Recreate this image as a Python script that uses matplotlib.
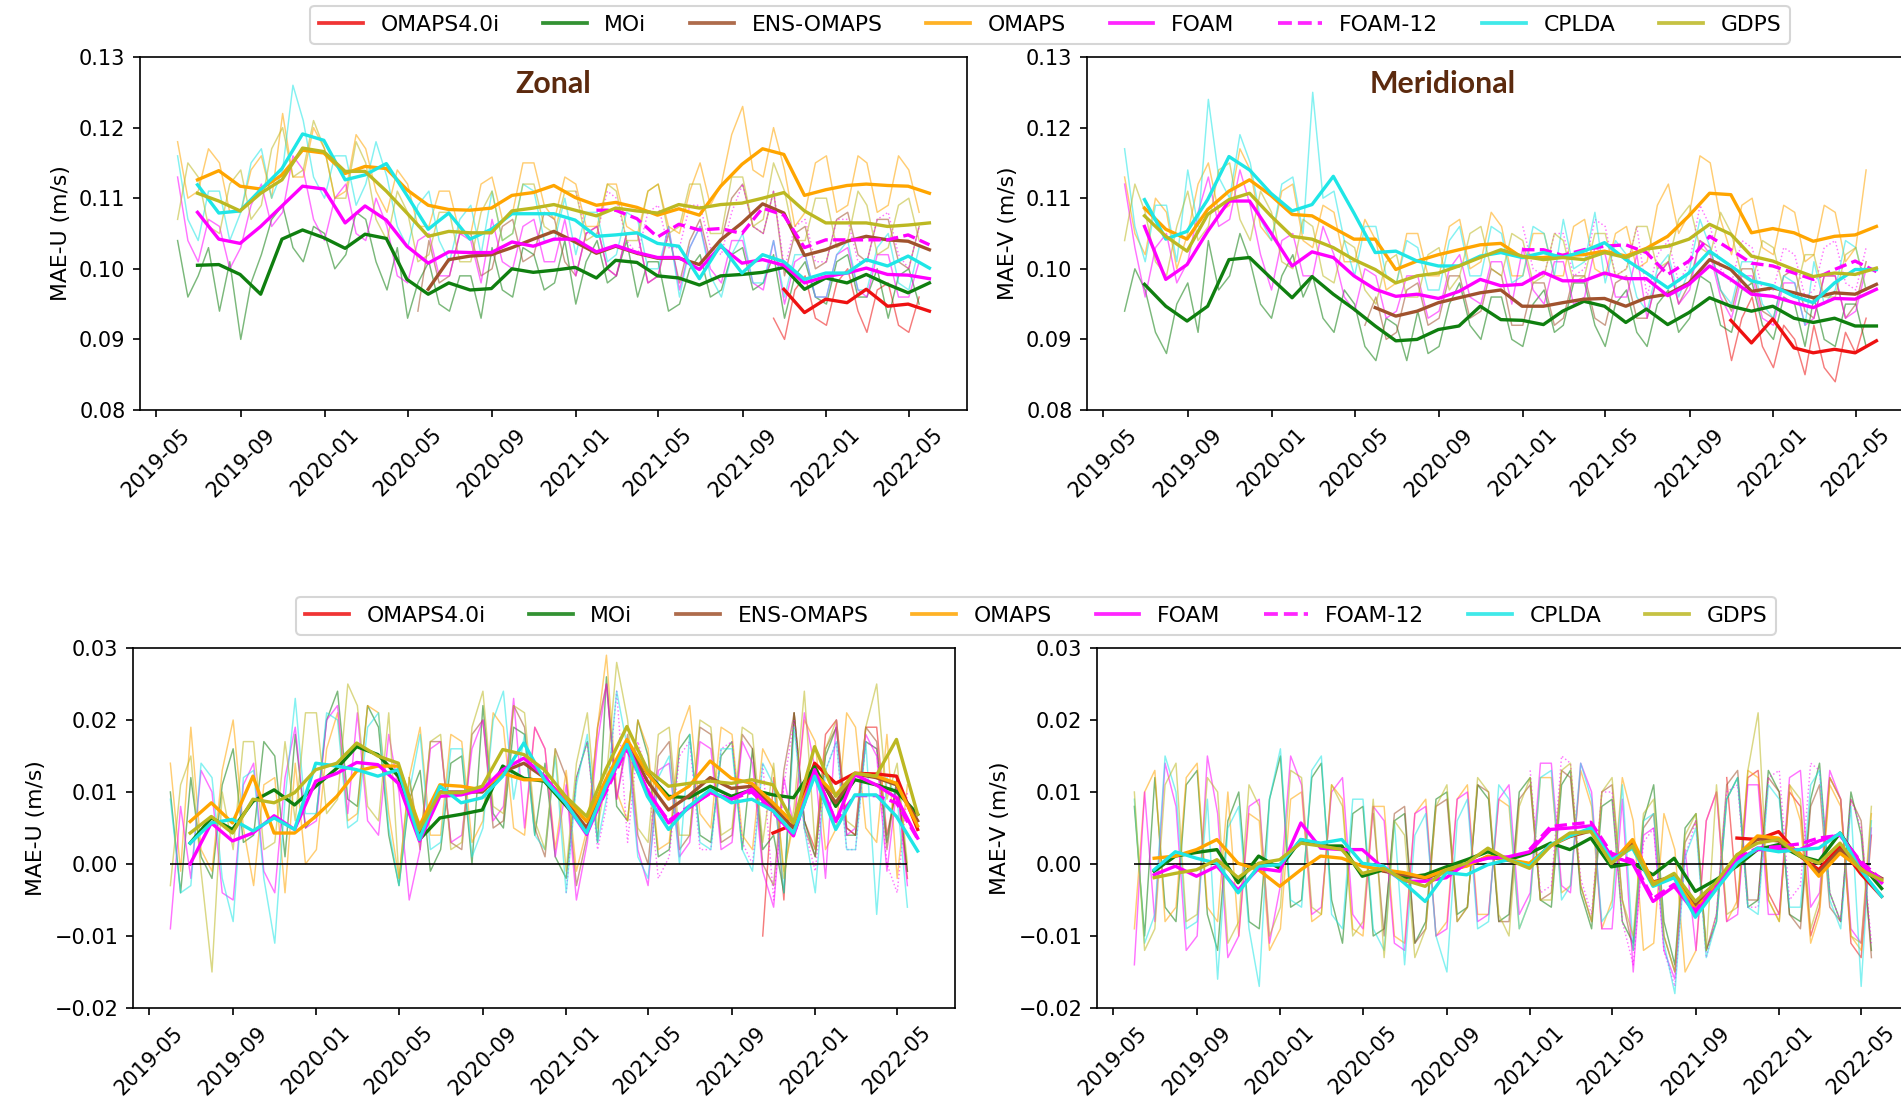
import numpy as np
import pandas as pd
import matplotlib
matplotlib.use("Agg")
import matplotlib.pyplot as plt
import matplotlib.dates as mdates
from matplotlib.lines import Line2D

# ---------------------------------------------------------------------------
# Models, colours
# ---------------------------------------------------------------------------
MODELS = ["OMAPS4.0i", "MOi", "ENS-OMAPS", "OMAPS", "FOAM", "FOAM-12", "CPLDA", "GDPS"]
COLORS = {
    "OMAPS4.0i": "#ee1111",
    "MOi": "#0f7f0f",
    "ENS-OMAPS": "#a0522d",
    "OMAPS": "#ffa500",
    "FOAM": "#ff00ff",
    "FOAM-12": "#ff00ff",
    "CPLDA": "#1fe6e6",
    "GDPS": "#bcb822",
}

# Monthly means are stamped at month end (Jun 2019 - May 2022);
# the thin curves are sampled on the 1st and 16th of each month.
MONTH_ENDS = pd.date_range("2019-06-30", periods=36, freq=pd.offsets.MonthEnd())
_starts = pd.date_range("2019-06-01", periods=36, freq=pd.offsets.MonthBegin())
SAMPLE_DATES = pd.DatetimeIndex(sorted(list(_starts) + list(_starts + pd.Timedelta(days=15))))

# ---------------------------------------------------------------------------
# Zonal MAE (m/s) - monthly means
# ---------------------------------------------------------------------------
U_MOI = [0.1005, 0.1006, 0.0992, 0.0964, 0.1042, 0.1055, 0.1044, 0.1029, 0.1049, 0.1043,
         0.0985, 0.0964, 0.0980, 0.0970, 0.0972, 0.1000, 0.0995, 0.0998, 0.1002, 0.0987,
         0.1012, 0.1009, 0.0990, 0.0987, 0.0977, 0.0990, 0.0992, 0.0995, 0.1002, 0.0971,
         0.0987, 0.0980, 0.0992, 0.0978, 0.0966, 0.0980]
U_FOAM = [0.1080, 0.1042, 0.1036, 0.1060, 0.1089, 0.1117, 0.1113, 0.1065, 0.1089, 0.1069,
          0.1032, 0.1008, 0.1024, 0.1023, 0.1023, 0.1038, 0.1032, 0.1042, 0.1042, 0.1024,
          0.1033, 0.1023, 0.1016, 0.1016, 0.0999, 0.1032, 0.1008, 0.1013, 0.1005, 0.0980,
          0.0989, 0.0994, 0.1001, 0.0992, 0.0991, 0.0986]
U_OMAPS = [0.1126, 0.1139, 0.1117, 0.1113, 0.1133, 0.1168, 0.1164, 0.1135, 0.1145, 0.1142,
           0.1112, 0.1090, 0.1084, 0.1083, 0.1086, 0.1104, 0.1108, 0.1118, 0.1101, 0.1090,
           0.1094, 0.1087, 0.1076, 0.1085, 0.1076, 0.1117, 0.1148, 0.1170, 0.1162, 0.1104,
           0.1112, 0.1118, 0.1120, 0.1118, 0.1117, 0.1107]
U_CPLDA = [0.1119, 0.1079, 0.1082, 0.1112, 0.1142, 0.1191, 0.1182, 0.1126, 0.1133, 0.1149,
           0.1104, 0.1056, 0.1079, 0.1042, 0.1056, 0.1078, 0.1078, 0.1078, 0.1069, 0.1046,
           0.1048, 0.1051, 0.1036, 0.1032, 0.0986, 0.1034, 0.0994, 0.1020, 0.1010, 0.0985,
           0.0994, 0.0994, 0.1013, 0.1004, 0.1018, 0.1001]
U_GDPS = [0.1107, 0.1096, 0.1082, 0.1107, 0.1126, 0.1171, 0.1166, 0.1138, 0.1138, 0.1110,
          0.1079, 0.1046, 0.1053, 0.1051, 0.1051, 0.1082, 0.1086, 0.1091, 0.1083, 0.1075,
          0.1086, 0.1082, 0.1079, 0.1091, 0.1086, 0.1091, 0.1093, 0.1100, 0.1108, 0.1082,
          0.1065, 0.1065, 0.1065, 0.1060, 0.1062, 0.1065]
U_ENS = [0.0971, 0.1013, 0.1018, 0.1020, 0.1030, 0.1042, 0.1053, 0.1038, 0.1022, 0.1032,
         0.1022, 0.1015, 0.1015, 0.1006, 0.1041, 0.1065, 0.1092, 0.1079, 0.1019, 0.1027,
         0.1039, 0.1046, 0.1041, 0.1039, 0.1027]
U_FOAM12 = [0.1083, 0.1083, 0.1071, 0.1045, 0.1063, 0.1055, 0.1057, 0.1050, 0.1086, 0.1076,
            0.1030, 0.1041, 0.1041, 0.1041, 0.1041, 0.1048, 0.1034]
U_OMAPS40 = [0.0971, 0.0938, 0.0957, 0.0952, 0.0971, 0.0947, 0.0950, 0.0940]

# Zonal MAE - twice-monthly samples (units of 1e-3 m/s)
U_MOI_S = [104, 96, 99, 103, 94, 101, 90, 98, 102, 107, 109, 103, 101, 106, 105, 100, 102, 108,
           107, 101, 97, 103, 93, 98, 101, 95, 94, 99, 99, 93, 103, 97, 96, 103, 102, 97,
           98, 104, 95, 101, 104, 98, 99, 104, 96, 101, 101, 94, 95, 100, 102, 96, 97, 102,
           103, 97, 98, 102, 93, 99, 101, 96, 95, 101, 102, 96, 96, 100, 93, 99, 100, 95]
U_FOAM_S = [113, 104, 101, 107, 106, 100, 103, 109, 112, 106, 108, 116, 114, 107, 104, 110, 112, 105,
            104, 110, 106, 99, 98, 104, 105, 99, 99, 105, 104, 98, 107, 101, 100, 106, 107, 101,
            101, 107, 99, 105, 106, 100, 99, 105, 105, 98, 99, 106, 97, 103, 106, 100, 98, 104,
            104, 98, 97, 104, 95, 101, 102, 96, 96, 102, 103, 97, 96, 102, 102, 96, 96, 101]
U_OMAPS_S = [118, 110, 111, 117, 115, 108, 108, 114, 116, 110, 122, 113, 113, 120, 117, 110, 111, 119,
             117, 111, 108, 114, 112, 106, 106, 111, 111, 105, 105, 112, 113, 107, 108, 115, 115, 109,
             107, 113, 112, 106, 106, 112, 112, 106, 105, 111, 112, 106, 105, 111, 115, 109, 112, 119,
             123, 114, 113, 120, 114, 106, 108, 115, 116, 108, 109, 116, 115, 108, 109, 116, 114, 108]
U_CPLDA_S = [116, 107, 104, 111, 111, 104, 108, 115, 117, 110, 114, 126, 121, 113, 110, 116, 116, 109,
             112, 118, 113, 106, 103, 109, 111, 104, 101, 107, 109, 102, 111, 104, 105, 112, 111, 104,
             104, 110, 102, 108, 108, 101, 102, 108, 107, 100, 100, 106, 96, 103, 106, 99, 96, 102,
             105, 98, 98, 104, 96, 102, 102, 96, 96, 102, 104, 97, 97, 103, 105, 98, 97, 103]
U_GDPS_S = [107, 115, 113, 106, 105, 112, 114, 107, 109, 117, 120, 113, 114, 121, 117, 110, 110, 118,
            115, 107, 104, 111, 108, 101, 102, 108, 108, 101, 101, 108, 111, 104, 105, 112, 112, 106,
            105, 111, 111, 104, 105, 112, 111, 104, 104, 111, 112, 105, 106, 112, 112, 105, 105, 113,
            113, 106, 107, 115, 111, 104, 104, 110, 110, 103, 104, 111, 109, 102, 103, 109, 110, 104]
U_ENS_S = [94, 104, 98, 99, 105, 105, 99, 100, 106, 107, 101, 102, 108, 107, 101, 99, 105, 106,
           100, 99, 105, 105, 98, 99, 105, 98, 104, 107, 101, 104, 110, 112, 106, 105, 111, 99,
           105, 106, 100, 101, 107, 108, 102, 101, 107, 107, 101, 100, 106]
U_FOAM12_S = [111, 105, 105, 111, 110, 104, 102, 108, 109, 103, 103, 109, 109, 103, 102, 108, 112,
              106, 105, 111, 100, 106, 107, 101, 101, 107, 107, 101, 101, 107, 108, 102, 100, 106]
U_OMAPS40_S = [93, 90, 97, 99, 93, 92, 98, 100, 94, 91, 97, 98, 92, 91, 96]

# ---------------------------------------------------------------------------
# Meridional MAE (m/s) - monthly means
# ---------------------------------------------------------------------------
V_MOI = [0.0978, 0.0947, 0.0926, 0.0947, 0.1013, 0.1016, 0.0987, 0.0959, 0.0989, 0.0964,
         0.0943, 0.0919, 0.0898, 0.0900, 0.0914, 0.0919, 0.0947, 0.0928, 0.0927, 0.0921,
         0.0940, 0.0954, 0.0947, 0.0924, 0.0943, 0.0921, 0.0938, 0.0959, 0.0947, 0.0940,
         0.0947, 0.0930, 0.0924, 0.0930, 0.0919, 0.0919]
V_FOAM = [0.1060, 0.0985, 0.1006, 0.1053, 0.1096, 0.1096, 0.1051, 0.1004, 0.1024, 0.1016,
          0.0990, 0.0971, 0.0961, 0.0964, 0.0958, 0.0968, 0.0985, 0.0976, 0.0978, 0.0995,
          0.0983, 0.0983, 0.0994, 0.0986, 0.0986, 0.0962, 0.0978, 0.1004, 0.0985, 0.0964,
          0.0961, 0.0952, 0.0945, 0.0958, 0.0957, 0.0971]
V_OMAPS = [0.1086, 0.1056, 0.1042, 0.1084, 0.1110, 0.1126, 0.1104, 0.1077, 0.1075, 0.1058,
           0.1042, 0.1042, 0.0999, 0.1011, 0.1020, 0.1027, 0.1034, 0.1036, 0.1016, 0.1016,
           0.1019, 0.1020, 0.1025, 0.1018, 0.1029, 0.1046, 0.1075, 0.1107, 0.1105, 0.1051,
           0.1057, 0.1051, 0.1039, 0.1046, 0.1048, 0.1060]
V_CPLDA = [0.1098, 0.1042, 0.1053, 0.1098, 0.1159, 0.1140, 0.1107, 0.1082, 0.1091, 0.1131,
           0.1079, 0.1023, 0.1025, 0.1011, 0.1004, 0.1004, 0.1018, 0.1023, 0.1016, 0.1023,
           0.1016, 0.1025, 0.1037, 0.1013, 0.0994, 0.0973, 0.0994, 0.1025, 0.1004, 0.0983,
           0.0976, 0.0961, 0.0952, 0.0980, 0.0999, 0.0999]
V_GDPS = [0.1075, 0.1046, 0.1025, 0.1077, 0.1098, 0.1107, 0.1075, 0.1046, 0.1042, 0.1030,
          0.1013, 0.0999, 0.0980, 0.0990, 0.0994, 0.1004, 0.1016, 0.1027, 0.1018, 0.1013,
          0.1016, 0.1013, 0.1023, 0.1016, 0.1028, 0.1032, 0.1042, 0.1063, 0.1049, 0.1018,
          0.1011, 0.0999, 0.0989, 0.0994, 0.0992, 0.1001]
V_ENS = [0.0945, 0.0933, 0.0940, 0.0952, 0.0959, 0.0966, 0.0970, 0.0947, 0.0947, 0.0952,
         0.0957, 0.0958, 0.0947, 0.0959, 0.0964, 0.0980, 0.1013, 0.0999, 0.0968, 0.0973,
         0.0966, 0.0959, 0.0966, 0.0964, 0.0978]
V_FOAM12 = [0.1027, 0.1027, 0.1019, 0.1027, 0.1032, 0.1034, 0.1023, 0.0992, 0.1011, 0.1046,
            0.1027, 0.1008, 0.1004, 0.0994, 0.0985, 0.0999, 0.1011, 0.0996]
V_OMAPS40 = [0.0927, 0.0895, 0.0929, 0.0888, 0.0881, 0.0886, 0.0881, 0.0898]

# Meridional MAE - twice-monthly samples (units of 1e-3 m/s)
V_MOI_S = [94, 100, 97, 91, 88, 95, 98, 91, 104, 97, 99, 105, 101, 95, 93, 99, 102, 96,
           99, 93, 91, 97, 95, 89, 87, 93, 92, 87, 94, 88, 89, 95, 98, 92, 90, 96,
           96, 90, 89, 95, 97, 91, 92, 98, 98, 92, 89, 95, 97, 91, 89, 95, 97, 91,
           93, 99, 98, 92, 91, 97, 98, 92, 90, 96, 95, 89, 96, 90, 89, 95, 95, 89]
V_FOAM_S = [112, 103, 96, 103, 105, 98, 101, 108, 113, 106, 107, 114, 109, 102, 97, 104, 105, 99,
            99, 106, 102, 96, 94, 100, 99, 93, 94, 99, 99, 93, 94, 100, 102, 96, 95, 101,
            101, 95, 103, 97, 95, 101, 101, 95, 96, 103, 102, 96, 96, 102, 93, 99, 101, 95,
            97, 104, 102, 96, 93, 99, 99, 93, 92, 98, 98, 92, 93, 99, 99, 93, 94, 100]
V_OMAPS_S = [113, 105, 102, 110, 108, 100, 105, 112, 115, 108, 109, 117, 114, 106, 104, 111, 112, 104,
             103, 109, 108, 101, 101, 107, 104, 97, 98, 105, 105, 99, 99, 106, 107, 100, 101, 108,
             106, 99, 99, 105, 105, 99, 99, 106, 107, 100, 99, 105, 106, 100, 101, 109, 112, 105,
             108, 116, 115, 107, 102, 109, 110, 103, 102, 109, 108, 101, 102, 109, 108, 101, 103, 114]
V_CPLDA_S = [117, 106, 101, 109, 109, 101, 114, 106, 124, 113, 110, 119, 115, 107, 104, 112, 113, 105,
             125, 110, 111, 104, 99, 106, 106, 99, 98, 104, 103, 97, 97, 104, 106, 99, 99, 106,
             105, 98, 99, 106, 105, 99, 107, 100, 101, 108, 98, 104, 102, 96, 94, 100, 102, 96,
             100, 107, 103, 97, 95, 101, 101, 95, 93, 99, 98, 92, 101, 95, 97, 104, 103, 97]
V_GDPS_S = [104, 112, 108, 101, 99, 106, 111, 104, 106, 114, 115, 107, 104, 111, 108, 101, 100, 107,
            106, 99, 98, 104, 103, 97, 95, 101, 102, 96, 96, 102, 103, 97, 99, 105, 106, 100,
            99, 105, 104, 98, 99, 105, 104, 98, 99, 105, 105, 99, 100, 106, 106, 100, 101, 107,
            109, 103, 102, 108, 105, 99, 98, 104, 103, 97, 96, 102, 102, 96, 96, 102, 103, 97]
V_ENS_S = [92, 96, 90, 91, 97, 98, 92, 93, 99, 99, 93, 94, 100, 99, 92, 92, 98, 98,
           92, 93, 99, 99, 93, 92, 98, 99, 93, 93, 99, 101, 95, 98, 104, 103, 97, 94,
           100, 100, 94, 93, 99, 100, 94, 93, 99, 99, 93, 95, 101]
V_FOAM12_S = [106, 100, 99, 105, 105, 99, 100, 107, 106, 99, 100, 106, 96, 102, 104, 98, 101,
              109, 106, 100, 98, 104, 103, 97, 97, 103, 102, 96, 97, 103, 104, 98, 97, 103]
V_OMAPS40_S = [95, 87, 93, 96, 89, 86, 92, 90, 85, 92, 86, 84, 91, 88, 93]

# ---------------------------------------------------------------------------
# Zonal MAE difference (m/s) - monthly means
# ---------------------------------------------------------------------------
DU_MOI = [0.0029, 0.0064, 0.0048, 0.0087, 0.0103, 0.0082, 0.0108, 0.0133, 0.0163, 0.0152,
          0.0122, 0.0034, 0.0064, 0.0069, 0.0075, 0.0136, 0.0119, 0.0115, 0.0082, 0.0048,
          0.0108, 0.0168, 0.0126, 0.0094, 0.0092, 0.0108, 0.0094, 0.0103, 0.0096, 0.0092,
          0.0135, 0.0080, 0.0117, 0.0110, 0.0101, 0.0069]
DU_FOAM = [0.0000, 0.0057, 0.0032, 0.0043, 0.0067, 0.0048, 0.0115, 0.0126, 0.0141, 0.0138,
           0.0112, 0.0032, 0.0094, 0.0096, 0.0103, 0.0131, 0.0147, 0.0122, 0.0085, 0.0041,
           0.0103, 0.0166, 0.0103, 0.0057, 0.0078, 0.0099, 0.0090, 0.0104, 0.0074, 0.0039,
           0.0131, 0.0059, 0.0124, 0.0110, 0.0092, 0.0036]
DU_OMAPS = [0.0059, 0.0085, 0.0057, 0.0122, 0.0043, 0.0043, 0.0066, 0.0094, 0.0129, 0.0136,
            0.0136, 0.0053, 0.0110, 0.0108, 0.0103, 0.0126, 0.0117, 0.0117, 0.0092, 0.0059,
            0.0117, 0.0173, 0.0126, 0.0090, 0.0108, 0.0143, 0.0119, 0.0112, 0.0085, 0.0057,
            0.0126, 0.0096, 0.0126, 0.0122, 0.0112, 0.0053]
DU_CPLDA = [0.0029, 0.0057, 0.0062, 0.0046, 0.0064, 0.0048, 0.0140, 0.0136, 0.0131, 0.0122,
            0.0131, 0.0034, 0.0108, 0.0085, 0.0092, 0.0122, 0.0168, 0.0117, 0.0085, 0.0043,
            0.0108, 0.0166, 0.0094, 0.0048, 0.0080, 0.0103, 0.0085, 0.0090, 0.0074, 0.0043,
            0.0122, 0.0048, 0.0096, 0.0096, 0.0066, 0.0018]
DU_GDPS = [0.0043, 0.0066, 0.0043, 0.0090, 0.0085, 0.0099, 0.0131, 0.0140, 0.0168, 0.0150,
           0.0140, 0.0048, 0.0099, 0.0099, 0.0108, 0.0159, 0.0152, 0.0131, 0.0094, 0.0066,
           0.0131, 0.0191, 0.0131, 0.0108, 0.0112, 0.0115, 0.0112, 0.0117, 0.0110, 0.0057,
           0.0163, 0.0094, 0.0126, 0.0122, 0.0173, 0.0069]
DU_ENS = [0.0040, 0.0100, 0.0100, 0.0100, 0.0128, 0.0140, 0.0120, 0.0088, 0.0050, 0.0112,
          0.0168, 0.0115, 0.0075, 0.0095, 0.0120, 0.0105, 0.0108, 0.0080, 0.0050, 0.0128,
          0.0085, 0.0125, 0.0120, 0.0110, 0.0060]
DU_FOAM12 = [0.0045, 0.0100, 0.0160, 0.0100, 0.0060, 0.0080, 0.0098, 0.0090, 0.0100, 0.0072,
             0.0040, 0.0125, 0.0060, 0.0095, 0.0095, 0.0085, 0.0035]
DU_OMAPS40 = [0.0043, 0.0055, 0.0140, 0.0112, 0.0126, 0.0125, 0.0122, 0.0048]

# Zonal MAE difference - twice-monthly samples (units of 1e-3 m/s)
DU_MOI_S = [10, -4, 12, 1, -2, 11, 16, 3, 4, 17, 15, 1, 18, 5, 7, 20, 24, 9,
            8, 22, 19, 4, -3, 9, 13, -1, 2, 14, 15, 0, 22, 7, 5, 19, 18, 4,
            14, 1, -2, 12, 17, 3, 26, 8, 6, 20, 15, 1, 2, 16, 18, 4, 3, 15,
            17, 2, 16, 2, 4, -4, 21, 6, 1, 15, 19, 4, 4, 17, 16, 3, 12, -1]
DU_FOAM_S = [-9, 8, -2, 13, 10, -4, -5, 11, 14, -1, -4, 12, 19, 5, 6, 20, 22, 7,
             21, 6, 4, 18, 10, -5, 2, 16, 17, 3, 4, 16, 20, 6, 8, 23, 5, 19,
             16, 1, 11, -5, 3, 17, 25, 9, 17, 2, -3, 13, 14, 1, 3, 17, 16, 2,
             3, 17, 14, -1, -6, 12, 5, 21, 13, -2, 20, 4, 5, 18, 15, -1, 11, -3]
DU_OMAPS_S = [14, -1, 19, 2, -1, 13, 20, 5, -3, 11, 12, -4, 14, 0, 2, 16, 21, 6,
              7, 22, 21, 7, -2, 12, 19, 4, 4, 18, 17, 3, 6, 21, 19, 5, 4, 19,
              16, 2, 13, -1, 5, 19, 29, 10, 6, 20, 16, 2, 3, 18, 22, 7, 5, 19,
              18, 4, 2, 16, 13, -1, 6, 20, 17, 2, 5, 21, 19, 5, 3, 18, -2, 11]
DU_CPLDA_S = [9, -4, -3, 14, 12, -2, -8, 12, 13, -2, -11, 9, 23, 7, 7, 21, 20, 5,
              6, 19, 21, 5, -3, 10, 18, 2, 3, 16, 16, 1, 5, 20, 24, 9, 18, 4,
              2, 15, -4, 11, 18, 3, 9, 24, 16, 1, -2, 12, 15, 0, 18, 3, 2, 16,
              16, 2, -1, 14, 11, -4, 19, 5, -4, 13, 17, 2, 2, 17, -7, 12, 9, -6]
DU_GDPS_S = [-3, 11, 15, -1, -15, 10, 2, 17, 17, 2, 3, 17, 6, 21, 21, 7, 9, 25,
             22, 8, 6, 21, -2, 12, 3, 17, 18, 2, 3, 19, 24, 8, 7, 22, 21, 6,
             2, 16, -1, 14, 21, 5, 12, 28, 20, 5, 3, 18, 19, 4, 4, 20, 19, 4,
             5, 19, 18, 3, 14, -2, 8, 24, 2, 16, 20, 6, 5, 19, 25, 9, 14, 0]
DU_ENS_S = [12, 2, 17, 17, 3, 2, 18, 20, 5, 6, 22, 19, 5, 1, 16, 12, -3, 4,
            19, 25, 9, 18, 4, 0, 15, 17, 2, 4, 19, 18, 3, 4, 18, 16, 0, -3,
            13, 21, 5, 1, 16, 19, 5, 4, 19, 17, 2, 12, -1]
DU_FOAM12_S = [-4, 12, 17, 2, 8, 24, 3, 17, 12, -2, 1, 15, 17, 2, 2, 16, 17,
               3, 0, 14, -5, 11, 20, 5, -1, 13, 17, 2, 2, 17, 16, 0, -4, 10]
DU_OMAPS40_S = [-10, 12, -5, 21, 6, 2, 18, 20, 5, 4, 19, 19, 4, 11, -2]

# ---------------------------------------------------------------------------
# Meridional MAE difference (m/s) - monthly means
# ---------------------------------------------------------------------------
DV_MOI = [-0.0010, 0.0011, 0.0016, 0.0020, -0.0026, 0.0011, -0.0006, 0.0034, 0.0025, 0.0025,
          -0.0017, -0.0008, -0.0019, -0.0015, -0.0004, 0.0006, 0.0017, 0.0006, 0.0015, 0.0029,
          0.0020, 0.0036, -0.0004, 0.0001, -0.0015, 0.0008, -0.0038, -0.0022, -0.0003, 0.0020,
          0.0027, 0.0011, 0.0004, 0.0043, 0.0001, -0.0034]
DV_FOAM = [-0.0015, -0.0003, -0.0017, -0.0003, -0.0036, -0.0006, -0.0010, 0.0057, 0.0022, 0.0020,
           0.0020, -0.0006, -0.0024, -0.0024, -0.0019, 0.0001, 0.0008, 0.0010, 0.0017, 0.0048,
           0.0050, 0.0053, 0.0011, 0.0001, -0.0052, -0.0031, -0.0068, -0.0034, 0.0006, 0.0020,
           0.0020, 0.0020, 0.0032, 0.0041, 0.0001, -0.0026]
DV_OMAPS = [0.0008, 0.0011, 0.0020, 0.0034, 0.0001, -0.0008, -0.0031, -0.0008, 0.0011, 0.0008,
            -0.0003, -0.0008, -0.0012, -0.0019, -0.0008, -0.0003, 0.0011, 0.0006, 0.0001, 0.0025,
            0.0039, 0.0048, 0.0001, 0.0034, -0.0026, -0.0019, -0.0063, -0.0031, 0.0011, 0.0039,
            0.0036, 0.0015, -0.0017, 0.0015, -0.0006, -0.0024]
DV_CPLDA = [-0.0008, 0.0017, 0.0008, 0.0001, -0.0040, -0.0003, -0.0001, 0.0034, 0.0029, 0.0034,
            0.0001, -0.0003, -0.0026, -0.0052, -0.0012, -0.0015, -0.0001, 0.0006, -0.0003, 0.0027,
            0.0039, 0.0050, 0.0006, 0.0022, -0.0031, -0.0019, -0.0074, -0.0036, 0.0001, 0.0022,
            0.0017, 0.0020, 0.0022, 0.0043, -0.0008, -0.0045]
DV_GDPS = [-0.0019, -0.0013, -0.0008, 0.0006, -0.0019, 0.0001, 0.0006, 0.0029, 0.0025, 0.0020,
           -0.0013, -0.0006, -0.0022, -0.0031, -0.0008, 0.0001, 0.0022, 0.0006, -0.0006, 0.0025,
           0.0043, 0.0045, 0.0001, 0.0025, -0.0029, -0.0013, -0.0052, -0.0026, 0.0013, 0.0029,
           0.0034, 0.0011, 0.0001, 0.0029, -0.0008, -0.0022]
DV_ENS = [-0.0010, -0.0015, -0.0020, -0.0010, -0.0002, 0.0010, 0.0005, 0.0000, 0.0026, 0.0038,
          0.0046, 0.0003, 0.0030, -0.0025, -0.0017, -0.0058, -0.0028, 0.0010, 0.0035, 0.0032,
          0.0012, -0.0012, 0.0020, -0.0004, -0.0020]
DV_FOAM12 = [0.0020, 0.0052, 0.0055, 0.0058, 0.0015, 0.0005, -0.0048, -0.0028, -0.0065, -0.0030,
             0.0008, 0.0022, 0.0024, 0.0028, 0.0036, 0.0040, 0.0004, -0.0022]
DV_OMAPS40 = [0.0036, 0.0034, 0.0045, 0.0011, -0.0008, 0.0025, -0.0013, -0.0045]

# Meridional MAE difference - twice-monthly samples (units of 1e-3 m/s)
DV_MOI_S = [8, -10, 12, -6, -8, 11, 13, -7, -12, 6, 10, -8, -9, 9, 15, -6, -5, 12,
            14, -5, -11, 7, 8, -10, -9, 6, 7, -11, -8, 9, 10, -7, -6, 11, 9, -8,
            -7, 10, 12, -5, -6, 11, 13, -4, -9, 8, 9, -8, -11, 6, 11, -8, -14, 5,
            7, -12, -8, 9, 12, -6, -5, 13, 10, -7, -8, 9, 14, -4, -8, 10, 4, -12]
DV_FOAM_S = [-14, 10, -8, 14, 8, -12, -10, 15, 7, -13, -10, 8, 9, -11, -3, 15, 11, -7,
             -6, 10, 12, -7, -9, 8, 6, -11, -12, 7, 8, -10, -9, 9, 10, -8, -7, 9,
             11, -7, -4, 14, 14, -3, -4, 14, 10, -9, -9, 9, -15, 4, 5, -12, -16, 2,
             -12, 6, 10, -8, -7, 11, 11, -7, -7, 12, 13, -6, -4, 13, 9, -9, -11, 5]
DV_OMAPS_S = [-9, 10, 13, -8, -6, 12, 14, -6, -8, 10, -10, 7, 6, -12, -9, 9, 10, -8,
              -7, 11, 9, -9, -10, 8, 8, -10, -11, 7, 9, -10, -8, 9, 11, -7, -7, 9,
              8, -9, -5, 12, 12, -4, -3, 13, 8, -9, -5, 12, 6, -12, -11, 7, 2, -15,
              -12, 6, 10, -8, -5, 13, 12, -5, -8, 11, 6, -11, -7, 11, 8, -10, -12, 7]
DV_CPLDA_S = [9, -11, -7, 15, 10, -9, -8, 9, -16, 5, 8, -9, -17, 9, 16, -5, -6, 13,
              15, -7, -9, 9, 9, -9, -12, 6, -14, 4, 7, -10, -15, 6, 9, -9, -8, 11,
              9, -9, -5, 12, 13, -5, -3, 14, 9, -8, -6, 11, -12, 6, 7, -11, -18, 1,
              5, -13, -8, 9, 12, -6, -7, 11, 9, -6, -6, 11, 13, -5, -9, 8, -17, 6]
DV_GDPS_S = [10, -12, -9, 11, 14, -8, -7, 12, 10, -11, -8, 11, 8, -10, -6, 13, 12, -6,
             -7, 11, 8, -10, -8, 9, -13, 6, 4, -13, -9, 8, 11, -8, -6, 12, 10, -7,
             -10, 8, 12, -5, -5, 13, 14, -3, -8, 10, 12, -5, -10, 7, 9, -10, -15, 4,
             7, -12, 11, -7, -6, 13, 21, -5, -8, 11, 9, -9, -5, 12, 9, -10, -11, 8]
DV_ENS_S = [7, -10, 7, 8, -11, -9, 8, 9, -8, -6, 11, 10, -8, -8, 9, 11, -5, -4,
            13, 12, -3, -8, 10, 11, -5, -12, 5, 7, -10, -15, 3, 6, -12, -7, 11, 13,
            -5, -5, 12, 10, -7, -9, 8, 11, -6, -8, 9, 6, -13]
DV_FOAM12_S = [13, -4, -3, 15, 14, -2, -7, 10, 10, -8, -14, 3, 5, -12, -17, 1, 6,
               -13, -7, 10, 11, -6, -6, 12, 13, -5, -3, 14, 13, -4, -8, 9, 5, -11]
DV_OMAPS40_S = [12, -6, 12, 13, -4, -7, 10, 8, -10, -6, 12, 9, -11, -13, 4]

# ---------------------------------------------------------------------------
# Assemble per-panel tables
# ---------------------------------------------------------------------------
def table(omaps40, moi, ens, omaps, foam, foam12, cplda, gdps):
    return dict(zip(MODELS, [omaps40, moi, ens, omaps, foam, foam12, cplda, gdps]))

PANELS = [
    dict(monthly=table(U_OMAPS40, U_MOI, U_ENS, U_OMAPS, U_FOAM, U_FOAM12, U_CPLDA, U_GDPS),
         samples=table(U_OMAPS40_S, U_MOI_S, U_ENS_S, U_OMAPS_S, U_FOAM_S, U_FOAM12_S, U_CPLDA_S, U_GDPS_S),
         ylabel="MAE-U (m/s)", ylim=(0.08, 0.13), title="Zonal", title_x=0.50, zero=False),
    dict(monthly=table(V_OMAPS40, V_MOI, V_ENS, V_OMAPS, V_FOAM, V_FOAM12, V_CPLDA, V_GDPS),
         samples=table(V_OMAPS40_S, V_MOI_S, V_ENS_S, V_OMAPS_S, V_FOAM_S, V_FOAM12_S, V_CPLDA_S, V_GDPS_S),
         ylabel="MAE-V (m/s)", ylim=(0.08, 0.13), title="Meridional", title_x=0.43, zero=False),
    dict(monthly=table(DU_OMAPS40, DU_MOI, DU_ENS, DU_OMAPS, DU_FOAM, DU_FOAM12, DU_CPLDA, DU_GDPS),
         samples=table(DU_OMAPS40_S, DU_MOI_S, DU_ENS_S, DU_OMAPS_S, DU_FOAM_S, DU_FOAM12_S, DU_CPLDA_S, DU_GDPS_S),
         ylabel="MAE-U (m/s)", ylim=(-0.02, 0.03), title=None, title_x=None, zero=True),
    dict(monthly=table(DV_OMAPS40, DV_MOI, DV_ENS, DV_OMAPS, DV_FOAM, DV_FOAM12, DV_CPLDA, DV_GDPS),
         samples=table(DV_OMAPS40_S, DV_MOI_S, DV_ENS_S, DV_OMAPS_S, DV_FOAM_S, DV_FOAM12_S, DV_CPLDA_S, DV_GDPS_S),
         ylabel="MAE-V (m/s)", ylim=(-0.02, 0.03), title=None, title_x=None, zero=True),
]

# ---------------------------------------------------------------------------
# Figure
# ---------------------------------------------------------------------------
W, H, DPI = 1901, 1109, 150
fig = plt.figure(figsize=(W / DPI, H / DPI), dpi=DPI)
plt.rcParams["font.family"] = ["DejaVu Sans"]

# axes rectangles in pixels: left, top, width, height
RECTS = [(140, 57, 827, 353), (1087, 57, 827, 353),
         (133, 648, 822, 360), (1097, 648, 822, 360)]

for (lx, ty, w, h), p in zip(RECTS, PANELS):
    ax = fig.add_axes([lx / W, 1 - (ty + h) / H, w / W, h / H])

    # thin twice-monthly curves
    for name in MODELS:
        vals = np.asarray(p["samples"][name], dtype=float) * 1e-3
        x = SAMPLE_DATES[len(SAMPLE_DATES) - len(vals):]
        ax.plot(x, vals, color=COLORS[name], lw=0.7, alpha=0.55,
                ls=":" if name == "FOAM-12" else "-")

    if p["zero"]:
        ax.hlines(0, SAMPLE_DATES[0], SAMPLE_DATES[-1], color="black", lw=0.8, zorder=3)

    # monthly means
    for name in MODELS:
        vals = p["monthly"][name]
        x = MONTH_ENDS[len(MONTH_ENDS) - len(vals):]
        ax.plot(x, vals, color=COLORS[name], lw=1.6,
                ls="--" if name == "FOAM-12" else "-", zorder=4)

    ax.set_ylim(*p["ylim"])
    ax.set_yticks(np.linspace(p["ylim"][0], p["ylim"][1], 6))
    ax.set_ylabel(p["ylabel"], fontsize=10.5)
    ax.xaxis.set_major_locator(mdates.MonthLocator(bymonth=[1, 5, 9]))
    ax.xaxis.set_major_formatter(mdates.DateFormatter("%Y-%m"))
    ax.tick_params(axis="x", labelrotation=45, labelsize=10)
    ax.tick_params(axis="y", labelsize=10)

    if p["title"]:
        ax.text(p["title_x"], 0.923, p["title"], transform=ax.transAxes,
                ha="center", va="center", fontsize=14.5, fontweight="bold",
                family=["Lato", "DejaVu Sans"], color="#5c2a0e")

handles = [Line2D([], [], color=COLORS[n], lw=1.8, alpha=0.85,
                  ls="--" if n == "FOAM-12" else "-") for n in MODELS]
for cx, top in [(1050, 6), (1036, 597)]:
    fig.legend(handles, MODELS, loc="upper center", bbox_to_anchor=(cx / W, 1 - top / H),
               ncol=8, fontsize=10.5, borderaxespad=0, handlelength=2.0,
               columnspacing=2.0, frameon=True)

fig.savefig("out.png", dpi=DPI)
